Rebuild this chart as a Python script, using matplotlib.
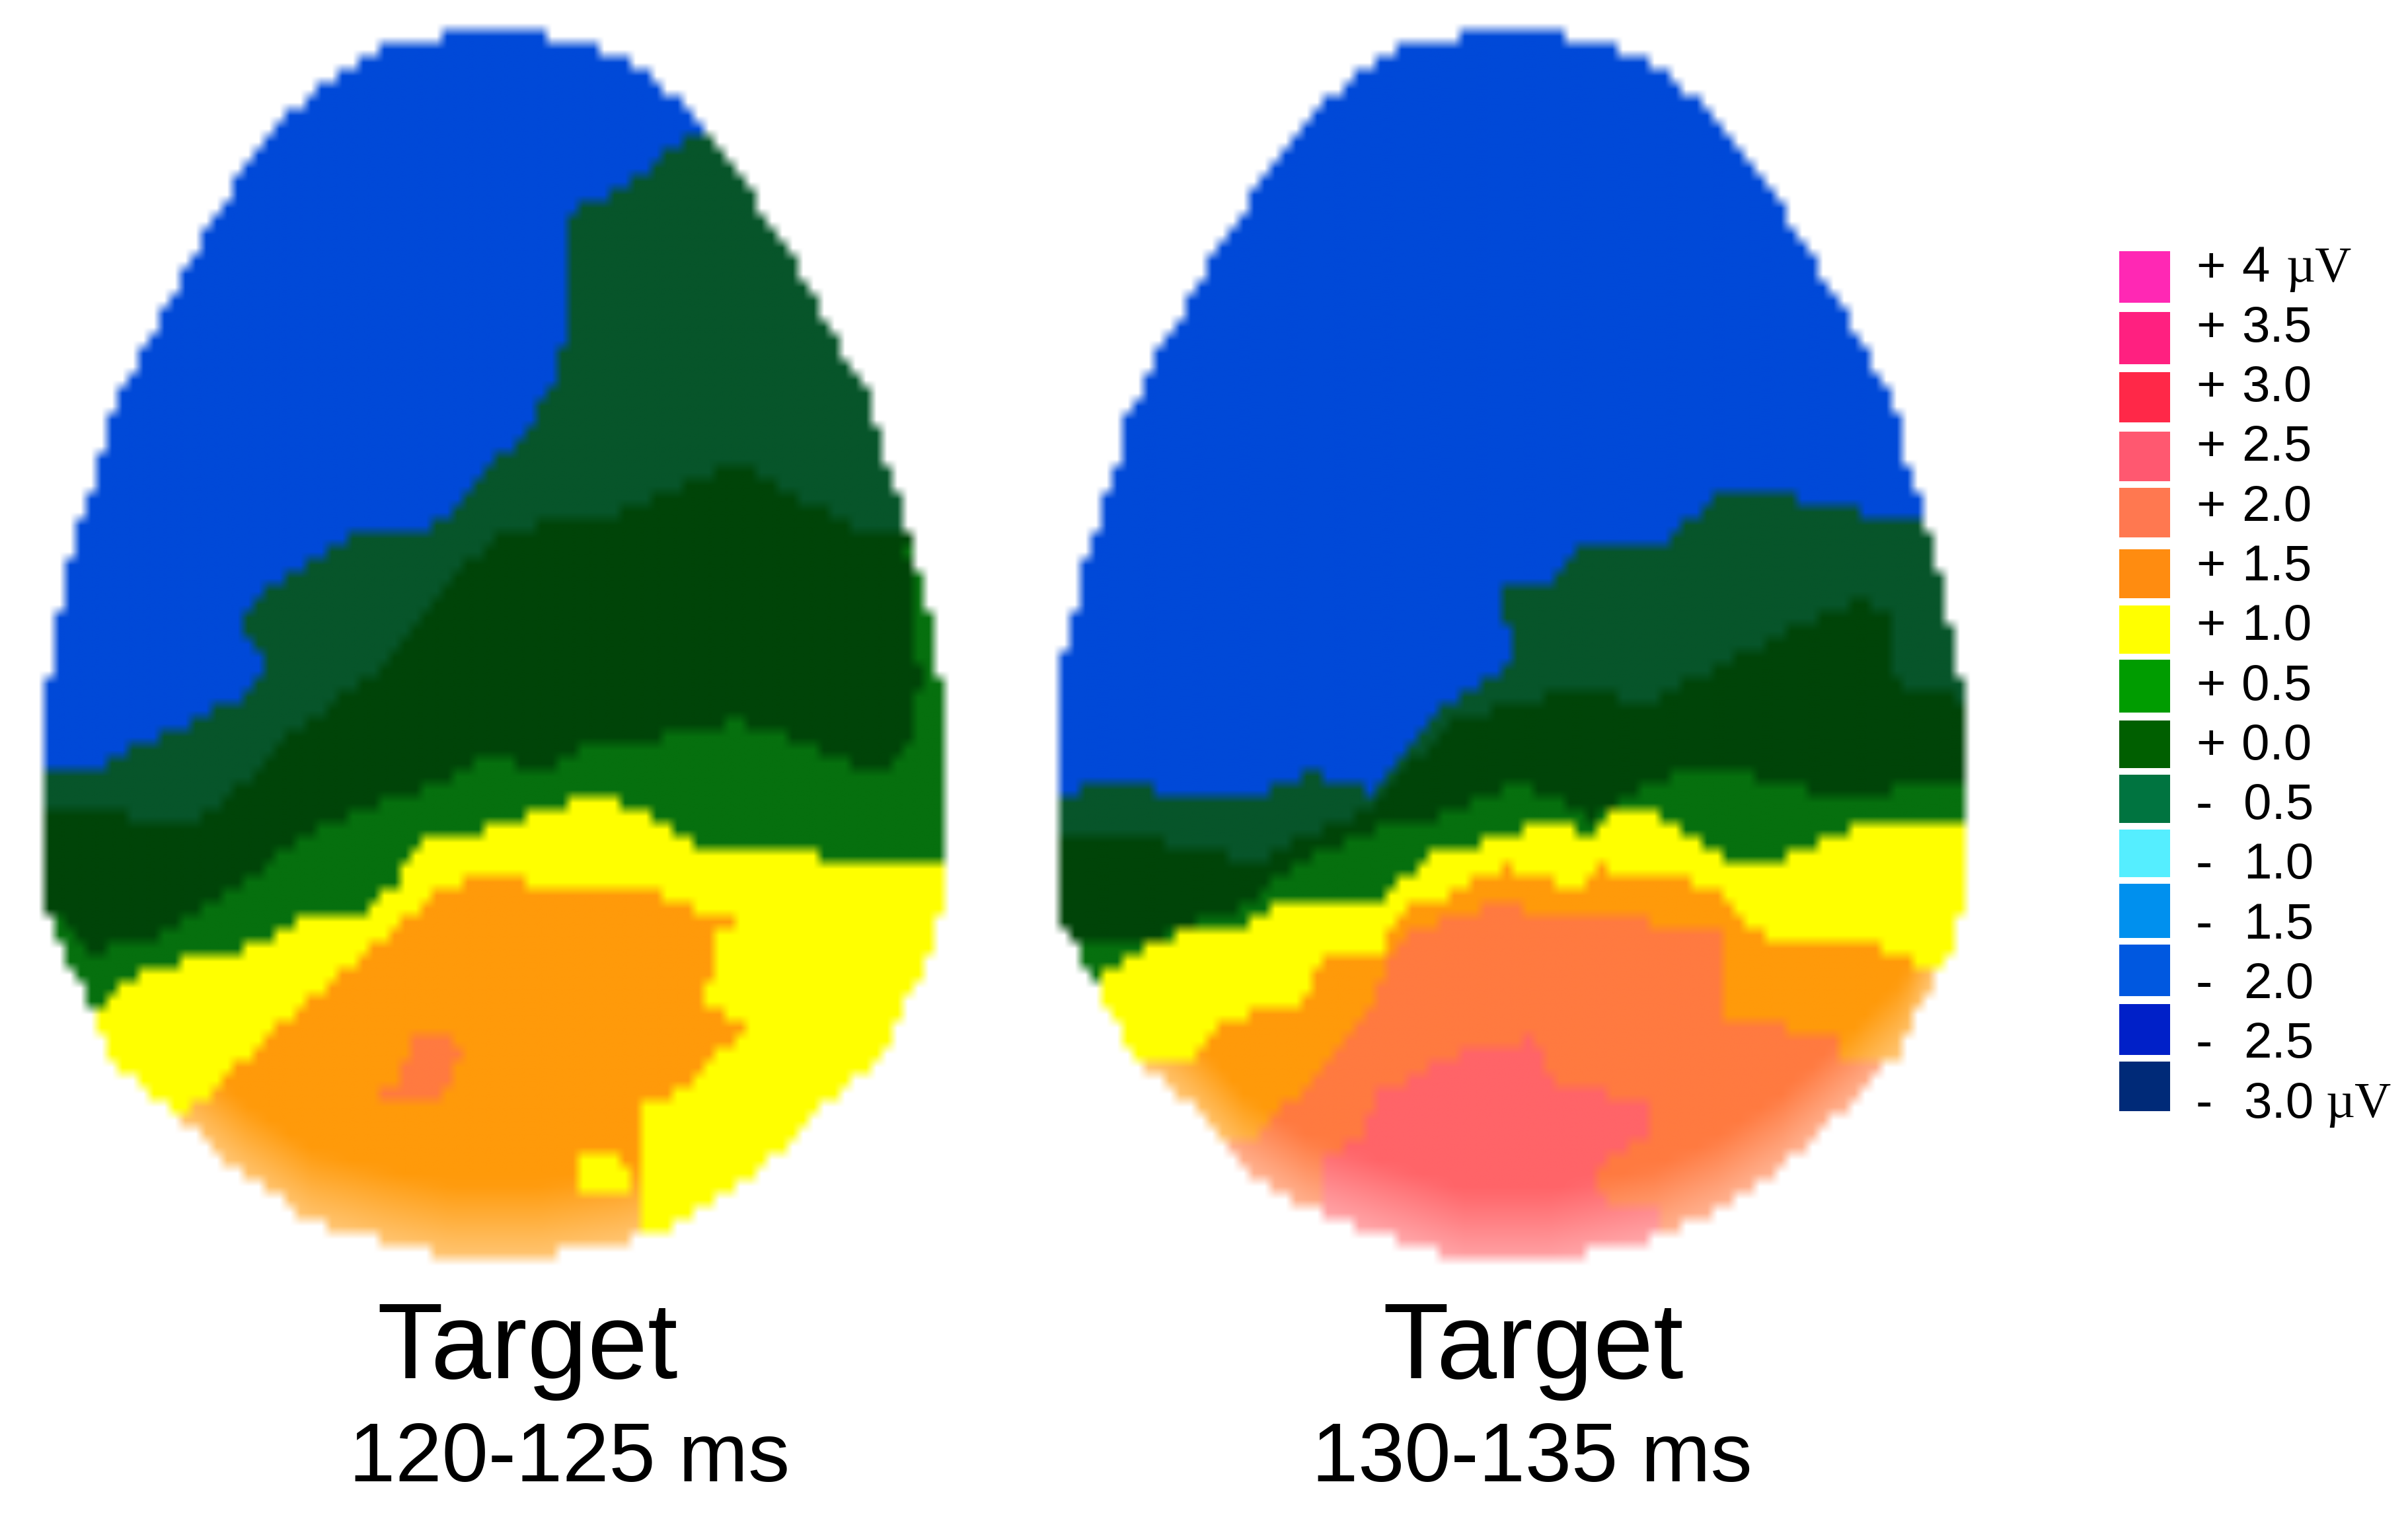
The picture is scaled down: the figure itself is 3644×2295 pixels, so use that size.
import numpy as np
import matplotlib
matplotlib.use("Agg")
import matplotlib.pyplot as plt
from matplotlib.path import Path

plt.rcParams['font.family'] = ['Liberation Sans', 'DejaVu Sans']

# legend
legend_signs = ["+", "+", "+", "+", "+", "+", "+", "+", "+", "-", "-", "-", "-", "-", "-"]
legend_values = ["4", "3.5", "3.0", "2.5", "2.0", "1.5", "1.0", "0.5", "0.0", "0.5", "1.0", "1.5", "2.0", "2.5", "3.0"]
legend_units = ["µV", "", "", "", "", "", "", "", "", "", "", "", "", "", "µV"]
legend_colors = ["#ff28b4", "#ff2080", "#ff2848", "#ff5870", "#ff7850", "#ff8c10", "#ffff00", "#009c00",
                 "#005f00", "#007440", "#55eeff", "#0090ee", "#0058e0", "#0020c8", "#002a78"]
legend_tops = [380, 472, 563, 653, 738, 831, 916, 998, 1090, 1172, 1255, 1337, 1429, 1519, 1606]
legend_bottoms = [458, 551, 639, 728, 813, 905, 989, 1078, 1162, 1245, 1327, 1419, 1507, 1596, 1681]

# colours as they look inside the maps, lowest level first
map_colors = ["#0049d8", "#07552a", "#004408", "#06700e", "#ffff00", "#ff9a0a", "#ff7a40", "#ff6468"]

# egg outlines (row, left edge, right edge)
egg1_y = [40, 62, 68, 99, 153, 204, 236, 287, 338, 389, 434, 517, 587, 625, 695, 746, 804, 858, 944, 1000, 1032,
          1364, 1447, 1530, 1606, 1695, 1778, 1849, 1880, 1900]
egg1_left = [670, 670, 603, 531, 464, 411, 392, 354, 325, 292, 273, 225, 187, 167, 153, 139, 120, 103, 86, 84, 67,
             67, 100, 143, 172, 278, 373, 478, 593, 689]
egg1_right = [832, 832, 900, 971, 1038, 1077, 1110, 1144, 1177, 1215, 1234, 1278, 1321, 1335, 1349, 1369, 1388, 1402,
              1421, 1426, 1445, 1445, 1416, 1378, 1340, 1235, 1157, 1043, 947, 823]

egg2_y = [40, 62, 68, 102, 156, 211, 236, 287, 345, 396, 434, 517, 587, 628, 702, 753, 807, 861, 951, 1032,
          1376, 1434, 1485, 1587, 1670, 1766, 1829, 1874, 1909]
egg2_left = [2206, 2206, 2136, 2072, 2000, 1952, 1933, 1899, 1866, 1832, 1813, 1761, 1727, 1708, 1694, 1674, 1657, 1641,
             1619, 1603, 1603, 1627, 1655, 1708, 1799, 1885, 1981, 2115, 2220]
egg2_right = [2368, 2368, 2440, 2507, 2579, 2627, 2651, 2684, 2718, 2751, 2770, 2823, 2856, 2875, 2890, 2907, 2923, 2940,
              2957, 2974, 2974, 2957, 2928, 2885, 2804, 2698, 2603, 2507, 2344]

# contour regions, painted in order over the blue base
egg1_regions = [
    (1, [(1057, 201), (995, 255), (919, 303), (866, 325), (866, 383), (857, 561), (813, 638), (737, 721), (689, 775),
         (651, 801), (536, 807), (459, 861), (383, 906), (373, 944), (402, 1000), (383, 1045), (287, 1096),
         (191, 1140), (153, 1160), (72, 1169), (0, 1169), (0, 2000), (1500, 2000), (1500, 201)]),
    (2, [(0, 1230), (172, 1230), (249, 1250), (306, 1240), (364, 1190), (430, 1125), (498, 1070), (574, 1015),
         (689, 880), (766, 804), (957, 772), (1129, 702), (1292, 791), (1359, 810), (1500, 810), (1500, 2000), (0, 2000)]),
    (3, [(0, 1383), (81, 1383), (143, 1440), (239, 1421), (287, 1383), (383, 1332), (459, 1268), (574, 1217),
         (670, 1185), (746, 1140), (823, 1172), (890, 1128), (1005, 1115), (1129, 1089), (1244, 1134), (1340, 1172),
         (1385, 1128), (1405, 1038), (1400, 950), (1385, 830), (1500, 830), (1500, 2000), (0, 2000)]),
    (4, [(0, 1530), (143, 1530), (177, 1526), (163, 1510), (182, 1485), (249, 1459), (335, 1447), (402, 1421),
         (459, 1389), (565, 1376), (603, 1338), (651, 1262), (785, 1252), (823, 1223), (909, 1204), (976, 1223),
         (1081, 1293), (1168, 1281), (1244, 1293), (1340, 1306), (1500, 1319), (1500, 2000), (0, 2000)]),
    (5, [(287, 1683), (402, 1574), (478, 1510), (555, 1447), (632, 1383), (651, 1364), (718, 1325), (794, 1325),
         (823, 1354), (861, 1338), (890, 1354), (1014, 1354), (1053, 1376), (1129, 1396), (1096, 1408), (1096, 1459),
         (1062, 1510), (1139, 1549), (1072, 1625), (1053, 1651), (971, 1663), (971, 2000), (0, 2000), (0, 1683)]),
    (6, [(565, 1657), (612, 1651), (622, 1574), (660, 1555), (708, 1593), (679, 1657), (593, 1660)]),
    (4, [(900, 1736), (950, 1736), (960, 1812), (882, 1812), (882, 1760)]),
]

egg2_regions = [
    (1, [(2907, 788), (2794, 772), (2660, 737), (2588, 759), (2526, 820), (2392, 826), (2344, 893), (2277, 874),
         (2287, 1000), (2239, 1038), (2172, 1083), (2124, 1134), (2086, 1198), (2019, 1185), (1981, 1169),
         (1923, 1198), (1837, 1207), (1770, 1198), (1694, 1185), (1607, 1198), (1500, 1198), (1500, 2000),
         (3100, 2000), (3100, 788)]),
    (2, [(1500, 1255), (1665, 1255), (1789, 1281), (1904, 1306), (1971, 1268), (2086, 1217), (2115, 1179), (2190, 1100),
         (2290, 1060), (2400, 1050), (2500, 1060), (2600, 1010), (2700, 960), (2810, 910), (2870, 920), (2860, 990),
         (2880, 1040), (3100, 1083), (3100, 2000), (1500, 2000)]),
    (3, [(1500, 1421), (1622, 1421), (1674, 1434), (1761, 1415), (1885, 1370), (1952, 1313), (2076, 1255), (2172, 1236),
         (2306, 1185), (2411, 1236), (2507, 1185), (2593, 1153), (2698, 1185), (2823, 1211), (2890, 1185), (3100, 1179),
         (3100, 2000), (1500, 2000)]),
    (4, [(1500, 1485), (1655, 1485), (1679, 1469), (1761, 1418), (1837, 1396), (1880, 1399), (1961, 1360), (2000, 1373),
         (2086, 1367), (2172, 1290), (2258, 1271), (2325, 1252), (2373, 1252), (2411, 1262), (2430, 1233), (2507, 1233),
         (2622, 1297), (2698, 1297), (2823, 1246), (3100, 1246), (3100, 2000), (1500, 2000)]),
    (5, [(1500, 1612), (1727, 1612), (1808, 1606), (1847, 1542), (1976, 1520), (1995, 1456), (2096, 1447), (2115, 1383),
         (2162, 1367), (2239, 1332), (2287, 1313), (2392, 1345), (2416, 1313), (2555, 1329), (2612, 1357), (2670, 1415),
         (2813, 1415), (2918, 1466), (3100, 1466), (3100, 2000), (1500, 2000)]),
    (6, [(1500, 1721), (1895, 1721), (1942, 1676), (1999, 1625), (2067, 1542), (2105, 1447), (2124, 1415), (2258, 1370),
         (2507, 1396), (2607, 1396), (2607, 1536), (2650, 1542), (2784, 1574), (2784, 1600), (2842, 1612), (3100, 1612),
         (3100, 2000), (1500, 2000)]),
    (7, [(2000, 1829), (2000, 1753), (2067, 1715), (2086, 1657), (2182, 1600), (2316, 1574), (2363, 1638), (2497, 1670),
         (2502, 1721), (2411, 1766), (2430, 1817), (2507, 1829), (2507, 2000), (2000, 2000)]),
]

titles = ["Target", "Target"]
title_x = [798, 2320]
subtitles = ["120-125 ms", "130-135 ms"]
subtitle_x = [862, 2318]


def draw_map(ax, egg_y, left, right, regions):
    x0, x1 = min(left) - 32, max(right) + 32
    y0, y1 = 45 - 20, max(egg_y) + 32
    cell = 16
    xs = np.arange(x0, x1, cell) + cell / 2
    ys = np.arange(y0, y1, 20) + 10
    gx, gy = np.meshgrid(xs, ys)
    pts = np.column_stack([gx.ravel(), gy.ravel()])

    outline = list(zip(left, egg_y)) + list(zip(right, egg_y))[::-1]
    inside = Path(outline).contains_points(pts).reshape(gx.shape)

    levels = np.zeros(gx.shape, dtype=int)
    for level, verts in regions:
        mask = Path(verts).contains_points(pts).reshape(gx.shape)
        levels[mask] = level

    rgb = np.array([matplotlib.colors.to_rgb(c) for c in map_colors])[levels]

    # warm colours wash out towards the lower rim
    low = np.array(egg_y) > 1400
    rim_x = np.r_[np.array(left)[low], np.array(right)[low][::-1]]
    rim_y = np.r_[np.array(egg_y)[low], np.array(egg_y)[low][::-1]]
    depth = np.interp(gx, rim_x, rim_y) - gy
    fade = np.clip(1 - depth / 110, 0, 1) * 0.42
    fade[levels < 5] = 0
    rgb = rgb + (1 - rgb) * fade[..., None]
    rgb[~inside] = 1.0

    ax.imshow(rgb, extent=(x0, x1, ys[-1] + 10, y0), interpolation='bilinear',
              interpolation_stage='rgba', aspect='auto', zorder=1)


def main():
    fig = plt.figure(figsize=(36.44, 22.95), dpi=100)
    ax = fig.add_axes([0, 0, 1, 1])

    draw_map(ax, egg1_y, egg1_left, egg1_right, egg1_regions)
    draw_map(ax, egg2_y, egg2_left, egg2_right, egg2_regions)

    for i in range(2):
        ax.text(title_x[i], 2085, titles[i], fontsize=118, ha='center', va='baseline', color='black')
        ax.text(subtitle_x[i], 2241, subtitles[i], fontsize=91, ha='center', va='baseline', color='black')

    tops = np.array(legend_tops)
    bottoms = np.array(legend_bottoms)
    ax.bar(np.full(len(tops), 3245), bottoms - tops, width=77, bottom=tops,
           color=legend_colors, linewidth=0, zorder=2)
    for i in range(len(legend_values)):
        y = 407 + i * 90.3
        ax.text(3323, y, legend_signs[i], fontsize=55, ha='left', va='center', color='black')
        vx = 3392 if i < 9 else 3395
        ax.text(vx, y, legend_values[i], fontsize=55, ha='left', va='center', color='black')
        if legend_units[i]:
            ux = 3460 if i == 0 else 3520
            ax.text(ux, y, legend_units[i], fontsize=55, ha='left', va='center', color='black',
                    family=['Liberation Serif', 'DejaVu Serif'])

    ax.set_xlim(0, 3644)
    ax.set_ylim(2295, 0)
    ax.axis('off')
    fig.savefig("out.png", dpi=100, facecolor='white')


if __name__ == "__main__":
    main()
